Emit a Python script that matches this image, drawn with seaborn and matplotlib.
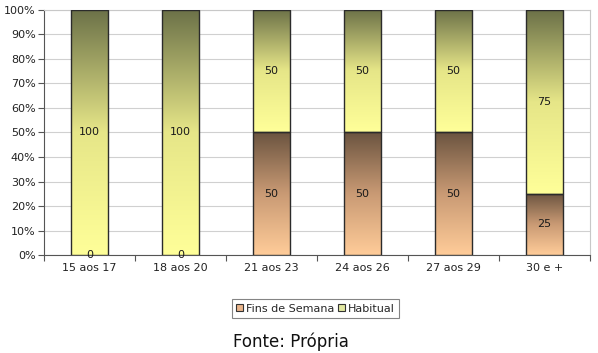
import numpy as np
import pandas as pd
import matplotlib
matplotlib.use("Agg")
import matplotlib.pyplot as plt
import seaborn as sns
from matplotlib.patches import Patch
from matplotlib.colors import LinearSegmentedColormap

categories = ["15 aos 17", "18 aos 20", "21 aos 23", "24 aos 26", "27 aos 29", "30 e +"]
fins_de_semana = [0, 0, 50, 50, 50, 25]
habitual = [100, 100, 50, 50, 50, 75]
series_names = ["Fins de Semana", "Habitual"]
y_ticks = [0, 10, 20, 30, 40, 50, 60, 70, 80, 90, 100]

sns.set_theme(style="white")
plt.rcParams["font.family"] = ["DejaVu Sans"]

fig = plt.figure(figsize=(5.98, 3.53), dpi=100)
ax = fig.add_axes([0.0736, 0.2776, 0.9130, 0.6941])

df_f = pd.DataFrame({"cat": categories, "val": fins_de_semana})
df_h = pd.DataFrame({"cat": categories, "val": habitual})

sns.barplot(data=df_f, x="cat", y="val", ax=ax, width=0.41, color="#d9a57a",
            edgecolor="#2b2b2b", linewidth=1.0, zorder=3)
n_f = len(ax.patches)
sns.barplot(data=df_h, x="cat", y="val", ax=ax, width=0.41, color="#e0e090",
            edgecolor="#2b2b2b", linewidth=1.0, bottom=fins_de_semana, zorder=3)

cmap_f = LinearSegmentedColormap.from_list("f", ["#ffcc99", "#c99a74", "#6b5440"])
cmap_h = LinearSegmentedColormap.from_list("h", ["#ffff99", "#e6e688", "#6c7148"])

for i, p in enumerate(ax.patches):
    x, y = p.get_x(), p.get_y()
    w, h = p.get_width(), p.get_height()
    if h <= 0:
        continue
    cmap = cmap_f if i < n_f else cmap_h
    grad = np.linspace(0, 1, 256).reshape(-1, 1)
    ax.imshow(grad, extent=[x, x + w, y, y + h], origin="lower", cmap=cmap,
              aspect="auto", zorder=3.5, interpolation="bicubic")
    p.set_facecolor("none")
    p.set_zorder(4)

# value labels
for i, cat in enumerate(categories):
    f = fins_de_semana[i]
    hb = habitual[i]
    ax.text(i, f / 2, f"{f}", ha="center", va="center", fontsize=8, color="#1a1a1a", zorder=5)
    ax.text(i, f + hb / 2, f"{hb}", ha="center", va="center", fontsize=8, color="#1a1a1a", zorder=5)

ax.set_xlim(-0.5, len(categories) - 0.5)
ax.set_ylim(0, 100)
ax.set_yticks(y_ticks)
ax.set_yticklabels([f"{t}%" for t in y_ticks], fontsize=8, color="#222222")
ax.set_xticks(range(len(categories)))
ax.set_xticklabels(categories, fontsize=8, color="#222222")
ax.tick_params(axis="x", length=0, pad=6)
ax.tick_params(axis="y", length=4, width=0.8, color="#555555", left=True, pad=2)
# minor ticks at category boundaries
ax.set_xticks(np.arange(-0.5, len(categories), 1.0), minor=True)
ax.tick_params(axis="x", which="minor", length=4, width=0.8, color="#555555", bottom=True)
ax.set_xlabel("")
ax.set_ylabel("")
ax.yaxis.grid(True, color="#d0d0d0", linewidth=0.8, zorder=0)
ax.set_axisbelow(True)
for s in ["left", "bottom"]:
    ax.spines[s].set_color("#555555")
    ax.spines[s].set_linewidth(0.8)
for s in ["top", "right"]:
    ax.spines[s].set_color("#c8c8c8")
    ax.spines[s].set_linewidth(0.8)

handles = [Patch(facecolor="#e9b48a", edgecolor="#333333", linewidth=0.8),
           Patch(facecolor="#e2e8a0", edgecolor="#333333", linewidth=0.8)]
leg = fig.legend(handles, series_names, loc="center", bbox_to_anchor=(0.528, 0.125),
                 ncol=2, fontsize=8, frameon=True, fancybox=False, handlelength=0.6,
                 handleheight=0.6, handletextpad=0.3, columnspacing=0.3,
                 borderpad=0.4, borderaxespad=0)
leg.get_frame().set_edgecolor("#666666")
leg.get_frame().set_linewidth(0.8)

fig.text(0.389, 0.005, "Fonte: Própria", fontsize=12, color="#111111", ha="left", va="bottom")

fig.savefig("out.png", dpi=100)
